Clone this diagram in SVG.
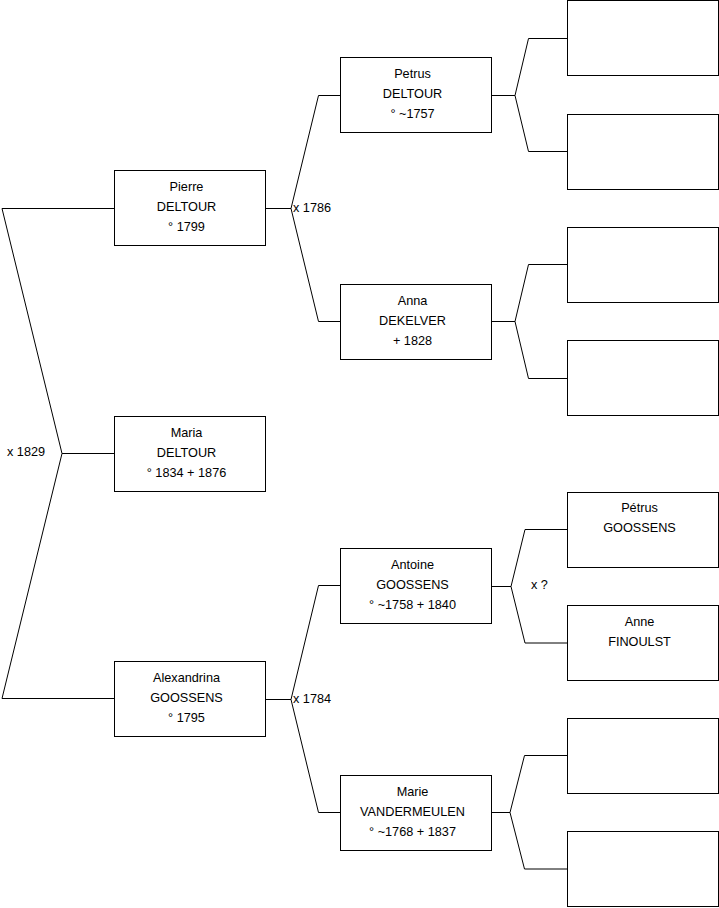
<svg xmlns="http://www.w3.org/2000/svg" width="719" height="908" viewBox="0 0 719 908">
<style>
.box{fill:#fff;stroke:#000;stroke-width:1}
.ln{fill:none;stroke:#000;stroke-width:1}
text{font-family:"Liberation Sans",Arial,sans-serif;font-size:12.7px;fill:#000}
.c{text-anchor:middle}
</style>
<rect width="719" height="908" fill="#fff"/>
<g id="connectors">
<path class="ln" d="M114 208.5 H2 L62 453.5 L2 698.5 H114 M62 453.5 H114"/>
<path class="ln" d="M265 208.5 H291 M340 95.5 H318.5 L291 208.5 L318.5 321.5 H340"/>
<path class="ln" d="M491 95.5 H515 M567 38.5 H528.5 L515 95.5 L528.5 151.5 H567"/>
<path class="ln" d="M491 321.5 H515 M567 264.5 H528.5 L515 321.5 L528.5 378.5 H567"/>
<path class="ln" d="M265 699.5 H291 M340 585.5 H318.5 L291 699.5 L318.5 812.5 H340"/>
<path class="ln" d="M491 586.5 H511 M567 529.5 H525 L511 586.5 L525 643 H567"/>
<path class="ln" d="M491 812.5 H510 M567 755.5 H524.5 L510 812.5 L524.5 869 H567"/>
<text x="7" y="455.5">x 1829</text>
<text x="293" y="211.5">x 1786</text>
<text x="293" y="702.5">x 1784</text>
<text x="531" y="588.5">x ?</text>
</g>
<g id="pierre"><rect class="box" x="114.5" y="170.5" width="151" height="75"/>
<text class="c" x="186.5" y="191">Pierre</text><text class="c" x="186.5" y="211">DELTOUR</text><text class="c" x="186.5" y="231">° 1799</text></g>
<g id="maria"><rect class="box" x="114.5" y="416.5" width="151" height="75"/>
<text class="c" x="186.5" y="437">Maria</text><text class="c" x="186.5" y="457">DELTOUR</text><text class="c" x="186.5" y="477">° 1834 + 1876</text></g>
<g id="alexandrina"><rect class="box" x="114.5" y="661.5" width="151" height="75"/>
<text class="c" x="186.5" y="682">Alexandrina</text><text class="c" x="186.5" y="702">GOOSSENS</text><text class="c" x="186.5" y="722">° 1795</text></g>
<g id="petrus"><rect class="box" x="340.5" y="57.5" width="151" height="75"/>
<text class="c" x="412.5" y="78">Petrus</text><text class="c" x="412.5" y="98">DELTOUR</text><text class="c" x="412.5" y="118">° ~1757</text></g>
<g id="anna"><rect class="box" x="340.5" y="284.5" width="151" height="75"/>
<text class="c" x="412.5" y="305">Anna</text><text class="c" x="412.5" y="325">DEKELVER</text><text class="c" x="412.5" y="345">+ 1828</text></g>
<g id="antoine"><rect class="box" x="340.5" y="548.5" width="151" height="75"/>
<text class="c" x="412.5" y="569">Antoine</text><text class="c" x="412.5" y="589">GOOSSENS</text><text class="c" x="412.5" y="609">° ~1758 + 1840</text></g>
<g id="marie"><rect class="box" x="340.5" y="775.5" width="151" height="75"/>
<text class="c" x="412.5" y="796">Marie</text><text class="c" x="412.5" y="816">VANDERMEULEN</text><text class="c" x="412.5" y="836">° ~1768 + 1837</text></g>
<g id="r1"><rect class="box" x="567.5" y="0.5" width="151" height="75"/></g>
<g id="r2"><rect class="box" x="567.5" y="114.5" width="151" height="75"/></g>
<g id="r3"><rect class="box" x="567.5" y="227.5" width="151" height="75"/></g>
<g id="r4"><rect class="box" x="567.5" y="340.5" width="151" height="75"/></g>
<g id="petrus-goossens"><rect class="box" x="567.5" y="492.5" width="151" height="75"/>
<text class="c" x="639.5" y="512">Pétrus</text><text class="c" x="639.5" y="532">GOOSSENS</text></g>
<g id="anne-finoulst"><rect class="box" x="567.5" y="605.5" width="151" height="75"/>
<text class="c" x="639.5" y="625.5">Anne</text><text class="c" x="639.5" y="645.5">FINOULST</text></g>
<g id="r7"><rect class="box" x="567.5" y="718.5" width="151" height="75"/></g>
<g id="r8"><rect class="box" x="567.5" y="831.5" width="151" height="75"/></g>
</svg>
